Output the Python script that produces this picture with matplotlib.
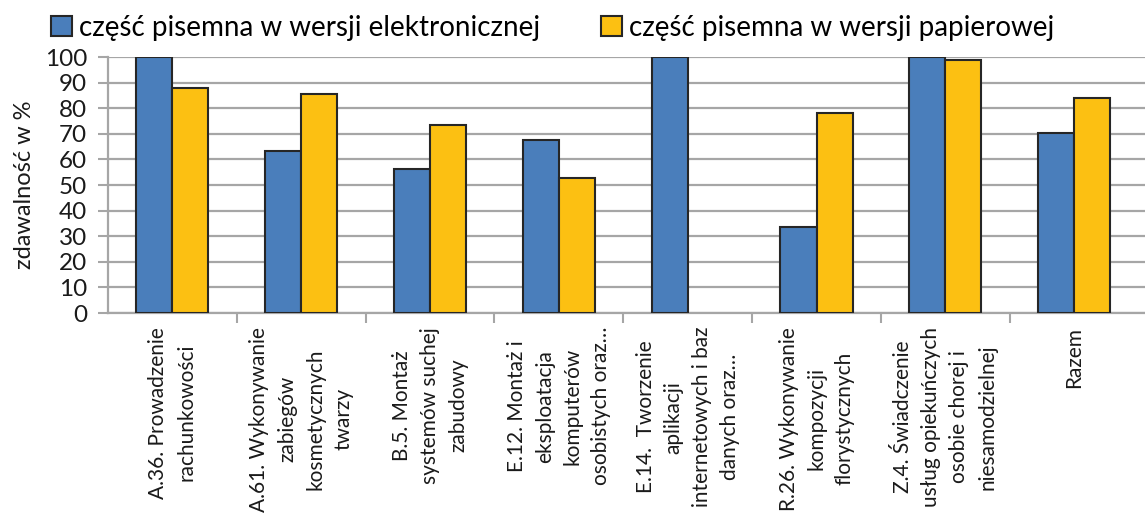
import matplotlib
matplotlib.use("Agg")
import matplotlib.pyplot as plt
import numpy as np

categories = [
    "A.36. Prowadzenie\nrachunkowości",
    "A.61. Wykonywanie\nzabiegów\nkosmetycznych\ntwarzy",
    "B.5. Montaż\nsystemów suchej\nzabudowy",
    "E.12. Montaż i\neksploatacja\nkomputerów\nosobistych oraz…",
    "E.14.  Tworzenie\naplikacji\ninternetowych i baz\ndanych oraz…",
    "R.26. Wykonywanie\nkompozycji\nflorystycznych",
    "Z.4. Świadczenie\nusług opiekuńczych\nosobie chorej i\nniesamodzielnej",
    "Razem",
]
electronic = [100, 63.4, 56.4, 67.5, 100, 33.5, 100, 70.2]
paper = [87.7, 85.5, 73.4, 52.9, 0, 78.2, 98.7, 83.9]
series_names = ["część pisemna w wersji elektronicznej", "część pisemna w wersji papierowej"]
yticks = list(range(0, 101, 10))

plt.rcParams['font.family'] = ['Lato', 'DejaVu Sans']

fig = plt.figure(figsize=(11.45, 5.2), dpi=100)
ax = fig.add_axes([108/1145, 1 - 313/520, (1145 - 108)/1145, 256/520])

x = np.arange(len(categories))
w = 0.28
ec = '#262626'
b1 = ax.bar(x - w/2, electronic, w, color='#4a7ebb', edgecolor=ec, linewidth=1.5, zorder=3,
            label=series_names[0])
b2 = ax.bar([xi + w/2 for xi, v in zip(x, paper) if v > 0], [v for v in paper if v > 0], w,
            color='#fcc012', edgecolor=ec, linewidth=1.5, zorder=3, label=series_names[1])

ax.set_xlim(-0.5, len(categories) - 0.5 + 0.05)
ax.set_ylim(0, 100)
ax.set_yticks(yticks)
ax.set_yticklabels([str(t) for t in yticks], fontsize=17.5, color='#1a1a1a')
ax.yaxis.grid(True, color='#a6a6a6', linewidth=1.6, zorder=0)
ax.set_axisbelow(True)

ax.set_xticks(x)
ax.set_xticklabels(categories, rotation=90, fontsize=15, color='#1a1a1a',
                   ha='center', va='top', multialignment='center', linespacing=1.5)
ax.tick_params(axis='x', length=0, pad=10)
ax.set_xticks(np.arange(0.5, len(categories) - 0.5, 1), minor=True)
ax.tick_params(axis='x', which='minor', length=7, width=1.5, color='#a6a6a6', direction='out')
ax.tick_params(axis='y', length=7, width=1.5, color='#a6a6a6', direction='out', pad=8)

for s in ['top', 'right']:
    ax.spines[s].set_visible(False)
for s in ['left', 'bottom']:
    ax.spines[s].set_color('#a6a6a6')
    ax.spines[s].set_linewidth(1.6)

ax.set_ylabel("zdawalność w %", fontsize=17, color='#1a1a1a', labelpad=7)

leg = fig.legend(handles=[b1, b2], loc='center left', bbox_to_anchor=(40/1145, 1 - 28/520),
                 ncol=2, frameon=False, fontsize=20, handlelength=0.75, handleheight=0.75,
                 handletextpad=0.25, columnspacing=2.2, borderaxespad=0)

fig.savefig("out.png", dpi=100)
